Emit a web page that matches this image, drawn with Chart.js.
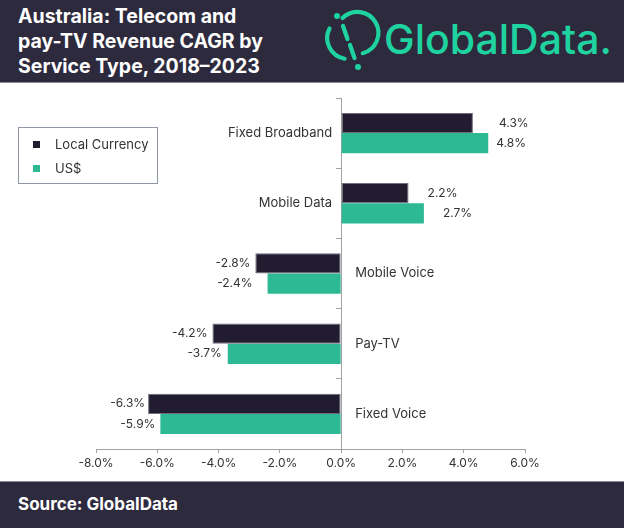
<!DOCTYPE html>
<html>
<head>
<meta charset="utf-8">
<script src="https://cdn.jsdelivr.net/npm/chart.js@4/dist/chart.umd.min.js"></script>
<style>
  body { margin: 0; width: 624px; height: 530px; background: #fff; font-family: Inter, "Open Sans", sans-serif; overflow: hidden; }
  #header { position: absolute; left: 0; top: 0; width: 624px; height: 82px; background: #2e2a3e; border-bottom: 1px solid #8c8a95; }
  #title { position: absolute; left: 18px; top: 4px; color: #fff; font-weight: 700; font-size: 19.5px; line-height: 25px; }
  #logoText { position: absolute; left: 384px; top: 14px; color: #1fd3a0; font-size: 41px; font-weight: 500; }
  #logoIcon { position: absolute; left: 315px; top: 5px; }
  #wrap { position: absolute; left: 0; top: 83px; width: 624px; height: 398px; }
  #legend { position: absolute; left: 18px; top: 127px; width: 138px; height: 55px; border: 1px solid #8d97a5; font-size: 13px; color: #333; }
  .item { position: absolute; left: 14px; height: 16px; line-height: 16px; }
  .sw { display: inline-block; width: 7px; height: 7px; margin-right: 15px; vertical-align: 1px; }
  #footer { position: absolute; left: 0; top: 481px; width: 624px; height: 46px; background: #2e2a3e; border-top: 1px solid #8c8a95; }
  #footer span { position: absolute; left: 18px; top: 12px; color: #fff; font-weight: 700; font-size: 17px; }
</style>
</head>
<body>
<div id="header">
  <div id="title">Australia: Telecom and<br>pay-TV Revenue CAGR by<br>Service Type, 2018–2023</div>
  <svg id="logoIcon" width="70" height="80" viewBox="0 0 70 80">
    <g fill="none" stroke="#1fd3a0" stroke-width="4.2" stroke-linecap="round">
      <path d="M 27.5 13.1 A 21 21 0 1 1 47.8 48.2" />
      <path d="M 29.6 53.7 A 21 21 0 0 1 14.5 23.5" />
      <path d="M 28 21 L 32.5 34" />
      <path d="M 35 40 L 39.5 53" />
    </g>
    <circle cx="22" cy="11" r="3" fill="#1fd3a0" />
    <circle cx="43" cy="62" r="3" fill="#1fd3a0" />
  </svg>
  <div id="logoText">GlobalData.</div>
</div>

<div id="wrap"><canvas id="chart"></canvas></div>

<div id="legend">
  <div class="item" style="top: 8px;"><span class="sw" style="background:#221c30"></span>Local Currency</div>
  <div class="item" style="top: 32px;"><span class="sw" style="background:#2db993"></span>US$</div>
</div>

<div id="footer"><span>Source: GlobalData</span></div>

<script>
const services = ['Fixed Broadband', 'Mobile Data', 'Mobile Voice', 'Pay-TV', 'Fixed Voice'];
const localCurrency = [4.3, 2.2, -2.8, -4.2, -6.3];
const usDollar = [4.8, 2.7, -2.4, -3.7, -5.9];
const xTicks = [-8, -6, -4, -2, 0, 2, 4, 6];

// small nudges so value labels sit where the original placed them
const labelNudge = [
  [26, 19, -5, -5, -3],
  [8, 19, -15, -6, -5]
];

const textColor = '#333333';
const axisColor = '#a0a0a0';

// category names sit next to the zero line, value labels at bar ends
const barLabels = {
  id: 'barLabels',
  afterDatasetsDraw(chart) {
    const ctx = chart.ctx;
    const x = chart.scales.x;
    const y = chart.scales.y;
    const zero = x.getPixelForValue(0);
    ctx.save();
    ctx.fillStyle = textColor;
    ctx.textBaseline = 'middle';
    ctx.font = '13px Inter';
    services.forEach((name, i) => {
      const yc = y.getPixelForValue(i);
      if (localCurrency[i] >= 0) {
        ctx.textAlign = 'right';
        ctx.fillText(name, zero - 9, yc);
      } else {
        ctx.textAlign = 'left';
        ctx.fillText(name, zero + 14, yc);
      }
    });
    ctx.font = '12px Inter';
    chart.data.datasets.forEach((ds, d) => {
      chart.getDatasetMeta(d).data.forEach((bar, i) => {
        const v = ds.data[i];
        const txt = v.toFixed(1) + '%';
        ctx.textAlign = v >= 0 ? 'left' : 'right';
        ctx.fillText(txt, bar.x + labelNudge[d][i], bar.y);
      });
    });
    ctx.restore();
  }
};

new Chart(document.getElementById('chart'), {
  type: 'bar',
  data: {
    labels: services,
    datasets: [{
      label: 'Local Currency',
      data: localCurrency,
      backgroundColor: '#221c30',
      borderColor: '#6f6b7a',
      borderWidth: 1,
      borderSkipped: false
    }, {
      label: 'US$',
      data: usDollar,
      backgroundColor: '#2db993',
      borderWidth: 0
    }]
  },
  options: {
    indexAxis: 'y',
    responsive: true,
    maintainAspectRatio: false,
    animation: false,
    barPercentage: 1,
    categoryPercentage: 0.575,
    layout: { padding: { top: 15, left: 96, right: 99, bottom: 0 } },
    scales: {
      x: {
        min: -8,
        max: 6,
        afterBuildTicks: (scale) => { scale.ticks = xTicks.map(v => ({ value: v })); },
        afterFit: (scale) => { scale.height = 32; },
        ticks: {
          color: textColor,
          font: { family: 'Inter', size: 12 },
          callback: (v) => Number(v).toFixed(1) + '%'
        },
        grid: { drawOnChartArea: false, drawTicks: true, tickLength: 4, color: axisColor },
        border: { color: axisColor }
      },
      y: {
        position: { x: 0 },
        ticks: { display: false },
        grid: { drawOnChartArea: false, drawTicks: true, tickLength: 5, color: axisColor, offset: true },
        border: { color: axisColor }
      }
    },
    plugins: {
      legend: { display: false },
      tooltip: { enabled: false }
    }
  },
  plugins: [barLabels]
});
</script>
</body>
</html>
